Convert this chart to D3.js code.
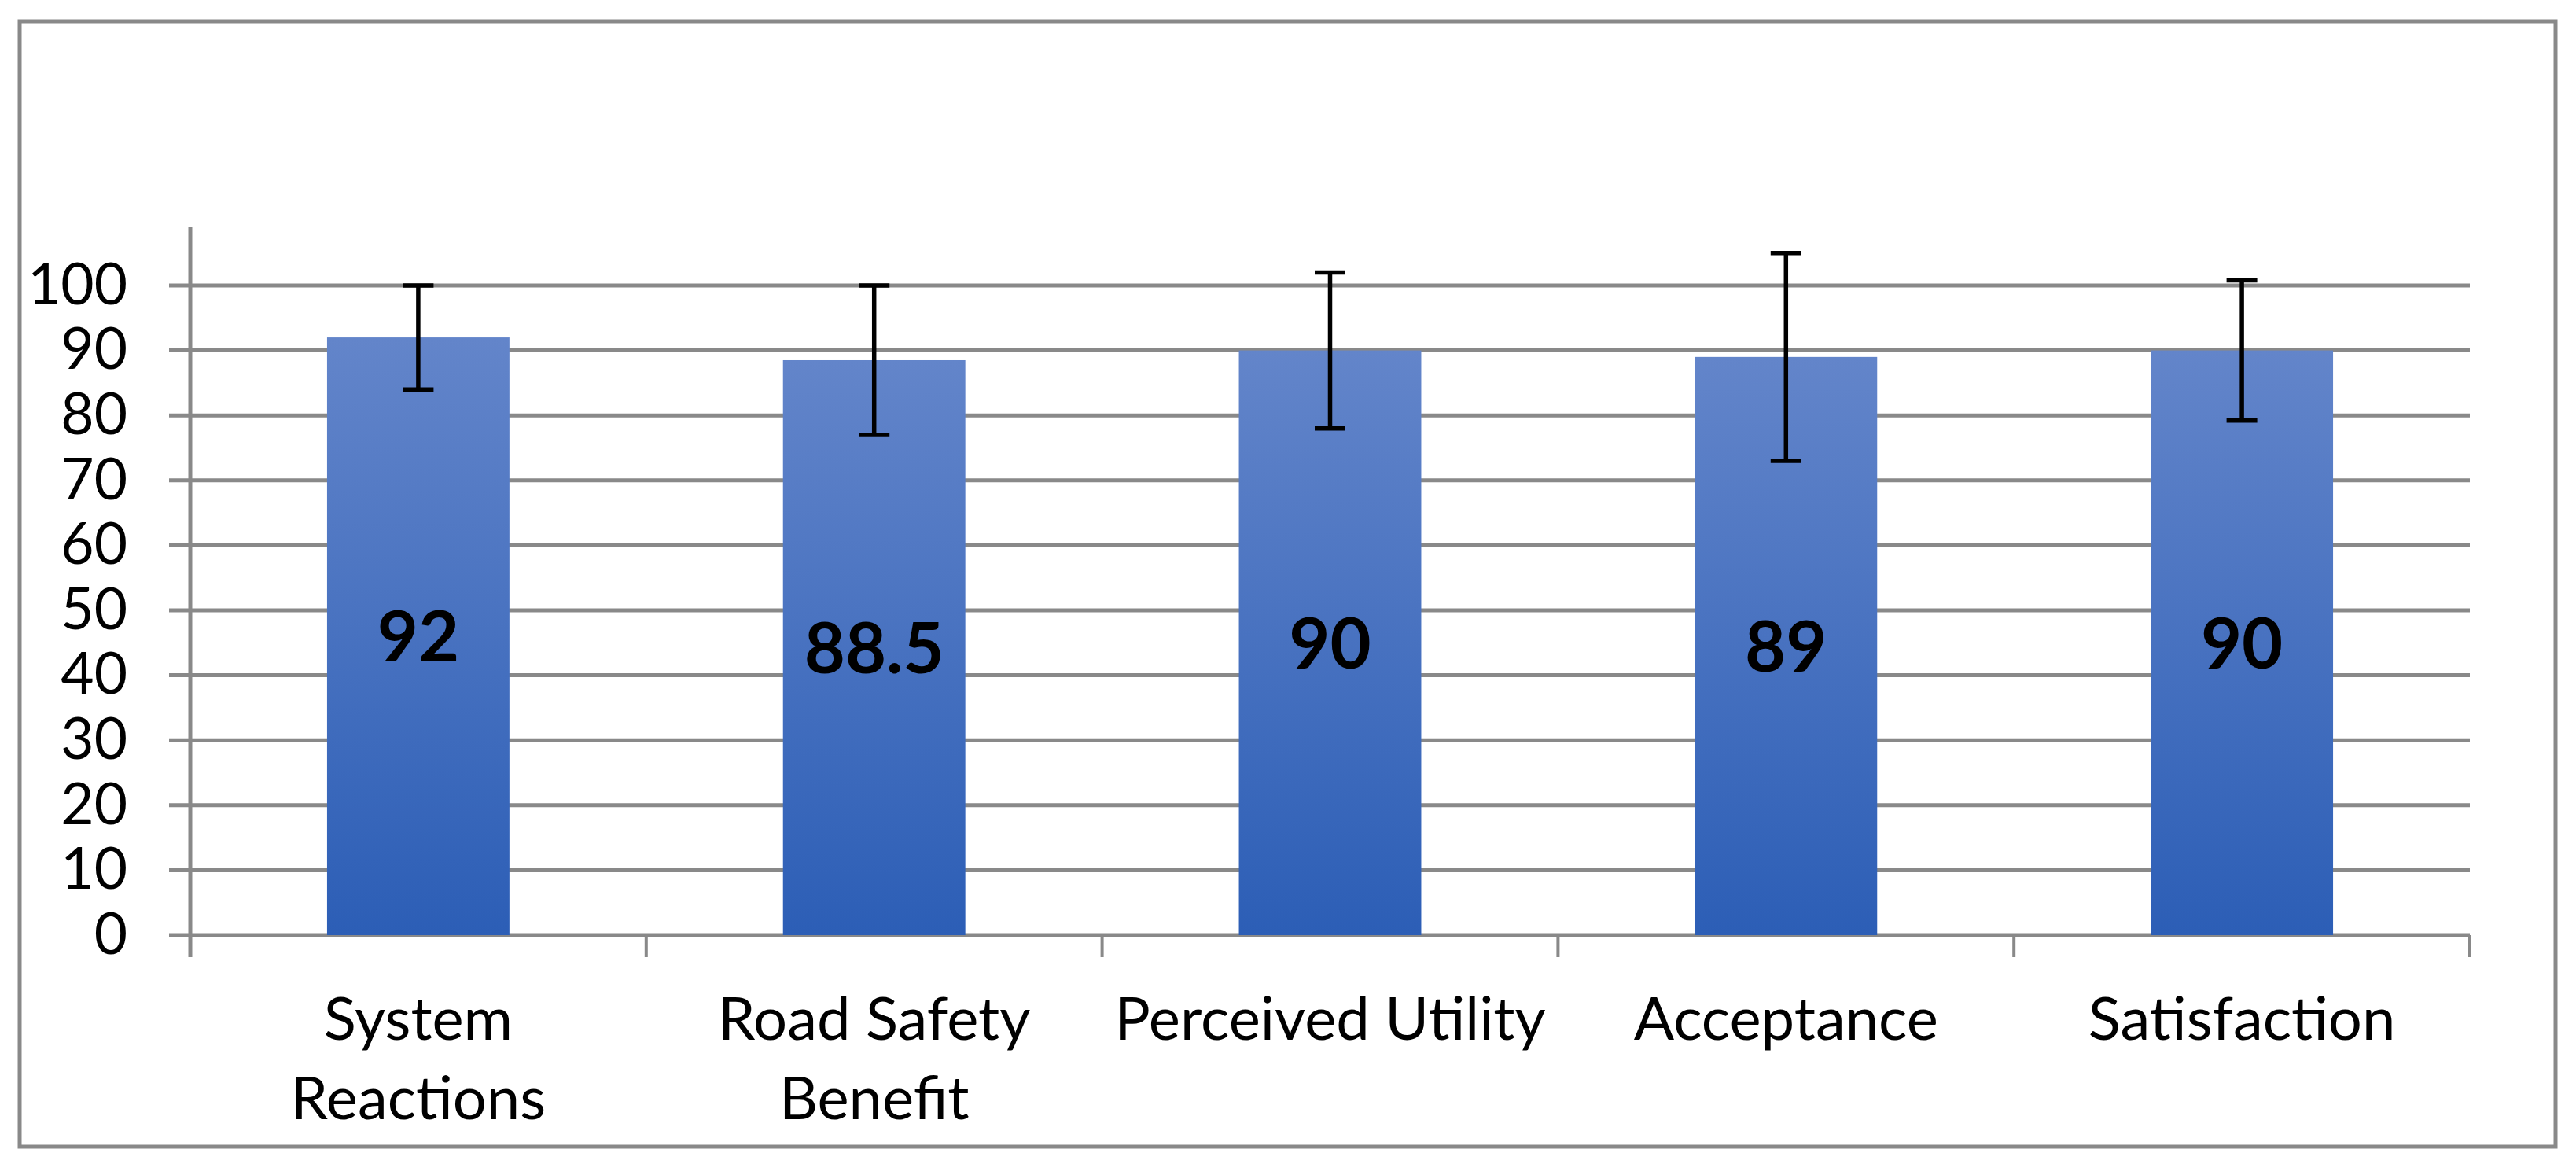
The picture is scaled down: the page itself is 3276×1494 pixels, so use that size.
<!DOCTYPE html>
<html>
<head>
<meta charset="utf-8">
<script src="https://cdn.jsdelivr.net/npm/d3@7"></script>
<style>
    body { margin: 0; background: white; }
    text { font-family: Lato, "Open Sans", sans-serif; fill: black; }
</style>
</head>
<body>
<div id="chart"></div>
<script>

const categories = ["System Reactions", "Road Safety Benefit", "Perceived Utility", "Acceptance", "Satisfaction"];
const labelLines = [["System", "Reactions"], ["Road Safety", "Benefit"], ["Perceived Utility"], ["Acceptance"], ["Satisfaction"]];
const values = [92, 88.5, 90, 89, 90];
const valueLabels = ["92", "88.5", "90", "89", "90"];
const errors = [8, 11.5, 12, 16, 10.8];
const yTicks = [0, 10, 20, 30, 40, 50, 60, 70, 80, 90, 100];

const width = 3276;
const height = 1494;
const grey = "#898989";

const svg = d3.select("#chart").append("svg")
    .attr("width", width)
    .attr("height", height);

// outer chart frame
svg.append("rect")
    .attr("x", 25).attr("y", 27)
    .attr("width", 3225).attr("height", 1431)
    .attr("fill", "white")
    .attr("stroke", grey)
    .attr("stroke-width", 5);

const x = d3.scaleBand()
    .domain(categories)
    .range([242, 3141])
    .padding(0);

const y = d3.scaleLinear()
    .domain([0, 100])
    .range([1189, 363]);

const gradient = svg.append("defs").append("linearGradient")
    .attr("id", "barFill")
    .attr("x1", 0).attr("y1", 0).attr("x2", 0).attr("y2", 1);
gradient.append("stop").attr("offset", "0%").attr("stop-color", "#6385ca");
gradient.append("stop").attr("offset", "100%").attr("stop-color", "#2c5eb6");

// horizontal gridlines, with a short tick left of the axis
svg.append("g")
    .selectAll("line")
    .data(yTicks)
    .join("line")
        .attr("x1", 215)
        .attr("x2", x.range()[1])
        .attr("y1", d => y(d))
        .attr("y2", d => y(d))
        .attr("stroke", grey)
        .attr("stroke-width", 5);

// y axis labels
const yAxis = svg.append("g")
    .attr("transform", "translate(242,0)")
    .call(d3.axisLeft(y).tickValues(yTicks).tickSize(0).tickPadding(80));
yAxis.select(".domain").remove();
yAxis.selectAll("text")
    .attr("font-size", 73)
    .attr("font-family", "Lato, sans-serif")
    .attr("fill", "black");

// y axis line
svg.append("line")
    .attr("x1", 242).attr("x2", 242)
    .attr("y1", 288).attr("y2", y(0) + 28)
    .attr("stroke", grey)
    .attr("stroke-width", 5);

// category boundary ticks
const boundaries = categories.map(c => x(c) + x.bandwidth()).concat([x(categories[0])]);
svg.append("g")
    .selectAll("line")
    .data(boundaries)
    .join("line")
        .attr("x1", d => d).attr("x2", d => d)
        .attr("y1", y(0)).attr("y2", y(0) + 28)
        .attr("stroke", grey)
        .attr("stroke-width", 4);

const barWidth = x.bandwidth() * 0.4;
const center = i => x(categories[i]) + x.bandwidth() / 2;

svg.append("g")
    .selectAll("rect")
    .data(values)
    .join("rect")
        .attr("x", (d, i) => center(i) - barWidth / 2)
        .attr("y", d => y(d))
        .attr("width", barWidth)
        .attr("height", d => y(0) - y(d))
        .attr("fill", "url(#barFill)");

// error bars
const err = svg.append("g")
    .attr("stroke", "black")
    .attr("stroke-width", 5.5);

values.forEach((v, i) => {
    const cx = center(i);
    const top = y(v + errors[i]);
    const bottom = y(v - errors[i]);
    err.append("line").attr("x1", cx).attr("x2", cx).attr("y1", top).attr("y2", bottom);
    err.append("line").attr("x1", cx - 19.5).attr("x2", cx + 19.5).attr("y1", top).attr("y2", top);
    err.append("line").attr("x1", cx - 19.5).attr("x2", cx + 19.5).attr("y1", bottom).attr("y2", bottom);
});

// value labels in the middle of each bar
svg.append("g")
    .selectAll("text")
    .data(values)
    .join("text")
        .attr("x", (d, i) => center(i))
        .attr("y", d => (y(d) + y(0)) / 2)
        .attr("dy", "0.36em")
        .attr("text-anchor", "middle")
        .attr("font-size", 90)
        .attr("font-weight", "bold")
        .text((d, i) => valueLabels[i]);

// category labels
const catLabels = svg.append("g")
    .selectAll("text")
    .data(labelLines)
    .join("text")
        .attr("text-anchor", "middle")
        .attr("font-size", 76);

catLabels.selectAll("tspan")
    .data((d, i) => d.map(line => ({ line, i })))
    .join("tspan")
        .attr("x", d => center(d.i))
        .attr("y", (d, j) => 1322 + j * 101)
        .text(d => d.line);

</script>
</body>
</html>
